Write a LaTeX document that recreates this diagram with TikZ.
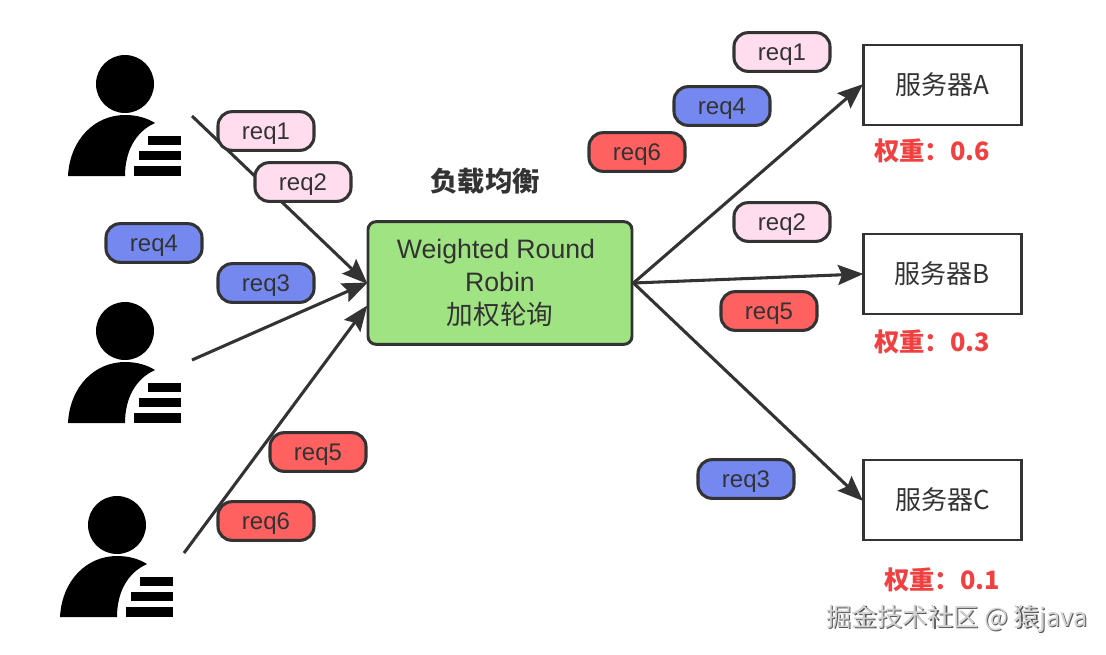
\documentclass[tikz,border=0pt]{standalone}
\usepackage{fontspec}
\setmainfont{Liberation Sans}
\newfontfamily\cjk{Noto Sans CJK SC}
\usetikzlibrary{arrows.meta}
\definecolor{linegray}{HTML}{333333}
\definecolor{reqpink}{HTML}{FFDDEE}
\definecolor{reqblue}{HTML}{7488F0}
\definecolor{reqred}{HTML}{FF6060}
\definecolor{lbgreen}{HTML}{A0E382}
\definecolor{weightred}{HTML}{F04040}
\newcommand{\marktext}[1]{\makebox[0pt][l]{\kern.8pt\raisebox{-.8pt}{\color{black!65}#1}}\color{black!18}#1}
\tikzset{
	usericon/.pic={
		\fill (0,0) circle[radius=29];
		\fill (-57,92) .. controls (-55,55) and (-30,31) .. (0,31) .. controls (12,31) and (22,34) .. (30,39) .. controls (10,48) and (0,68) .. (0,92) -- cycle;
		\fill (23,52) rectangle (56,61);
		\fill (14,67) rectangle (56,76);
		\fill (9,82) rectangle (56,92);
	},
	reqbox/.style={draw=linegray,line width=2.3pt,rounded corners=10.5pt,minimum width=72pt,minimum height=29pt,inner sep=0pt,text=linegray,text height=12.5pt,text depth=0pt,font=\fontsize{18}{20}\selectfont},
	serverbox/.style={draw=linegray,fill=white,line width=2.2pt,minimum width=118.5pt,minimum height=60pt,inner sep=0pt,text=linegray,font=\fontsize{19.5}{20}\cjk},
	weightlabel/.style={text=weightred,font=\fontsize{19}{20}\cjk\bfseries},
	flow/.style={draw=linegray,line width=2.3pt,-{Stealth[length=19pt,width=15pt,inset=3pt]},shorten >=-1pt},
}
\begin{document}
\begin{tikzpicture}[x=.75pt,y=-.75pt]
	\useasboundingbox (0,0) rectangle (1106,654);
	\pic at (125,84) {usericon};
	\pic at (125,331) {usericon};
	\pic at (117,525) {usericon};
	\coordinate (userA) at (192,116);
	\coordinate (userB) at (192,360);
	\coordinate (userC) at (184,553);
	\node[draw=linegray,fill=lbgreen,line width=2.2pt,rounded corners=6pt,minimum width=198pt,minimum height=92pt,inner sep=0pt,text=linegray,align=center,font=\fontsize{20}{24.7}\selectfont] (lb) at (500,283) {Weighted Round\hspace*{6pt}\\Robin\\{\cjk 加权轮询}};
	\node[font=\fontsize{20.5}{22}\cjk\bfseries,text=linegray] (lbtitle) at (485,181) {负载均衡};
	\node[serverbox] (serverA) at (942.5,85) {服务器A};
	\node[serverbox] (serverB) at (942.5,274) {服务器B};
	\node[serverbox] (serverC) at (942.5,500) {服务器C};
	\node[weightlabel] (weightA) at (932,151) {权重：0.6};
	\node[weightlabel] (weightB) at (932,342) {权重：0.3};
	\node[weightlabel] (weightC) at (942,580) {权重：0.1};
	\draw[flow] (userA)--(lb.west);
	\draw[flow] (userB)--(lb.west);
	\draw[flow] (userC)--(lb.190);
	\draw[flow] (lb.east)--(serverA.west);
	\draw[flow] (lb.east)--(serverB.west);
	\draw[flow] (lb.east)--(serverC.west);
	\begin{scope}[every node/.style={reqbox}]
		\node[fill=reqpink] (inreqA) at (266,131) {req1};
		\node[fill=reqpink] (inreqB) at (303,182) {req2};
		\node[fill=reqblue] (inreqD) at (154,243) {req4};
		\node[fill=reqblue] (inreqC) at (266,283) {req3};
		\node[fill=reqred] (inreqE) at (318,452) {req5};
		\node[fill=reqred] (inreqF) at (266,521) {req6};
		\node[fill=reqpink] (outreqA) at (782,52) {req1};
		\node[fill=reqblue] (outreqD) at (722,106) {req4};
		\node[fill=reqred] (outreqF) at (637,152) {req6};
		\node[fill=reqpink] (outreqB) at (782,222) {req2};
		\node[fill=reqred] (outreqE) at (769,311) {req5};
		\node[fill=reqblue] (outreqC) at (746,479) {req3};
	\end{scope}
	\node[font=\fontsize{19}{20}\cjk] (mark) at (957,619) {\marktext{掘金技术社区 @ 猿java}};
\end{tikzpicture}
\end{document}
